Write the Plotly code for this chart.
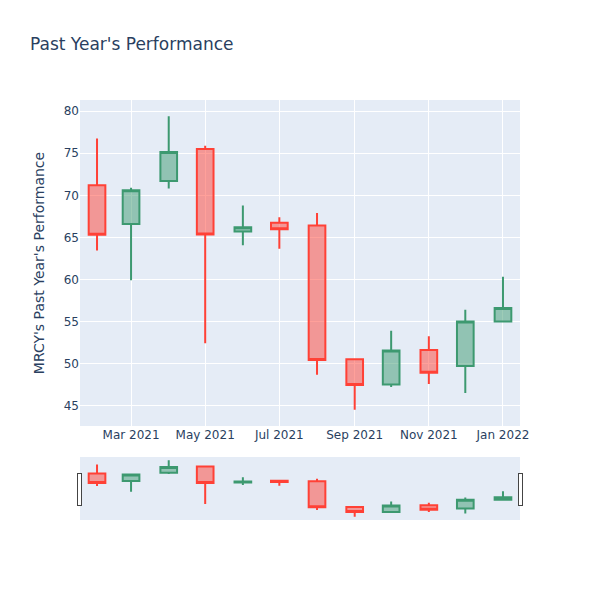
import plotly.graph_objects as go

# Monthly candles for MRCY
dates = ['2021-02-01', '2021-03-01', '2021-04-01', '2021-05-01', '2021-06-01', '2021-07-01',
         '2021-08-01', '2021-09-01', '2021-10-01', '2021-11-01', '2021-12-01', '2022-01-01']
opens = [71.2, 66.6, 71.7, 75.5, 65.7, 66.75, 66.4, 50.5, 47.5, 51.6, 49.7, 55.0]
highs = [76.75, 70.9, 79.4, 75.9, 68.8, 67.4, 67.9, 50.6, 53.9, 53.25, 56.4, 60.3]
lows = [63.45, 59.9, 70.8, 52.4, 64.05, 63.65, 48.65, 44.5, 47.2, 47.55, 46.5, 55.0]
closes = [65.3, 70.6, 75.15, 65.35, 66.2, 65.95, 50.4, 47.45, 51.55, 48.9, 55.0, 56.6]

fig = go.Figure(go.Candlestick(
    x=dates,
    open=opens,
    high=highs,
    low=lows,
    close=closes,
))

# page has an 8px body margin, so shift the margins to line up with the reference
fig.update_layout(
    title=dict(text="Past Year's Performance", x=22 / 600, y=1 - 36 / 600,
               xref='container', yref='container', yanchor='middle'),
    yaxis_title="MRCY's Past Year's Performance",
    font=dict(family='DejaVu Sans'),
    width=600,
    height=600,
    margin=dict(l=72, r=88, t=92, b=88),
)

fig.write_html("out.html")
